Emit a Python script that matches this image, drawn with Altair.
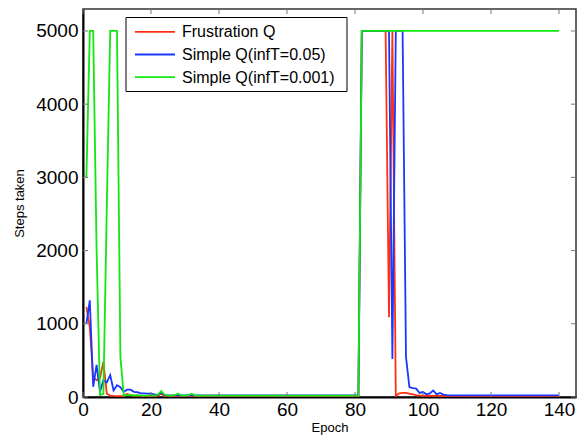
import altair as alt
import pandas as pd

epochs = list(range(1, 141))

frustration_q = [
    1230, 950, 270, 230, 260, 480, 45, 20, 15, 12, 12, 15,
    40, 25, 20, 18, 15, 15, 14, 12, 12, 20, 45, 15,
    14, 13, 12, 12, 12, 12, 12, 12, 12, 12, 12, 12,
    12, 12, 12, 12, 12, 12, 12, 12, 12, 12, 12, 12,
    12, 12, 12, 12, 12, 12, 12, 12, 12, 12, 12, 12,
    12, 12, 12, 12, 12, 12, 12, 12, 12, 12, 12, 12,
    12, 12, 12, 12, 12, 12, 12, 12, 12,
    5000, 5000, 5000, 5000, 5000, 5000, 5000, 5000,
    1090, 5000, 15,
    50, 55, 55, 45, 35, 25, 20, 20, 15, 20, 15, 15,
    14, 14, 14, 14, 14, 14, 14, 14, 14, 14, 14, 14,
    14, 14, 14, 14, 14, 14, 14, 14, 14, 14, 14, 14,
    14, 14, 14, 14, 14, 14, 14, 14, 14, 14, 14, 14,
]

simple_q_005 = [
    1000, 1320, 140, 440, 70, 230, 200, 300, 90, 160, 135, 70,
    100, 100, 70, 65, 50, 50, 45, 45, 35, 30, 60, 25,
    22, 22, 22, 22, 22, 22, 22, 22, 22, 22, 22, 22,
    22, 22, 22, 22, 22, 22, 22, 22, 22, 22, 22, 22,
    22, 22, 22, 22, 22, 22, 22, 22, 22, 22, 22, 22,
    22, 22, 22, 22, 22, 22, 22, 22, 22, 22, 22, 22,
    22, 22, 22, 22, 22, 22, 22, 22, 22,
    5000, 5000, 5000, 5000, 5000, 5000, 5000, 5000, 5000,
    520, 5000, 5000, 5000, 545,
    136, 120, 115, 55, 68, 36, 50, 90, 36, 55, 32, 25,
    22, 22, 22, 22, 22, 22, 22, 22, 22, 22, 22,
    22, 22, 22, 22, 22, 22, 22, 22, 22, 22, 22,
    22, 22, 22, 22, 22, 22, 22, 22, 22, 22, 22,
]

simple_q_0001 = [
    3000, 5000, 5000, 2000, 30, 40, 2600, 5000, 5000, 5000, 545, 20,
    25, 30, 20, 25, 20, 20, 20, 25, 20, 30, 80, 30,
    20, 20, 25, 45, 20, 20, 25, 45, 20, 20, 20, 20,
    20, 20, 20, 20, 20, 20, 20, 20, 20, 20, 20, 20,
    20, 20, 20, 20, 20, 20, 20, 20, 20, 20, 20, 20,
    20, 20, 20, 20, 20, 20, 20, 20, 20, 20, 20, 20,
    20, 20, 20, 20, 20, 20, 20, 20, 20,
    5000, 5000, 5000, 5000, 5000, 5000, 5000, 5000, 5000, 5000,
    5000, 5000, 5000, 5000, 5000, 5000, 5000, 5000, 5000, 5000,
    5000, 5000, 5000, 5000, 5000, 5000, 5000, 5000, 5000, 5000,
    5000, 5000, 5000, 5000, 5000, 5000, 5000, 5000, 5000, 5000,
    5000, 5000, 5000, 5000, 5000, 5000, 5000, 5000, 5000, 5000,
    5000, 5000, 5000, 5000, 5000, 5000, 5000, 5000, 5000,
]

series_names = ["Frustration Q", "Simple Q(infT=0.05)", "Simple Q(infT=0.001)"]
series_values = [frustration_q, simple_q_005, simple_q_0001]
series_colors = ["#ff3010", "#1838ff", "#10e810"]

x_ticks = [0, 20, 40, 60, 80, 100, 120, 140]
y_ticks = [0, 1000, 2000, 3000, 4000, 5000]

FONT = "Liberation Sans"
W, H = 493, 388

x_scale = alt.Scale(domain=[0, 145], nice=False, zero=False)
y_scale = alt.Scale(domain=[0, 5300], nice=False)

x_axis = alt.Axis(values=x_ticks, title="Epoch", grid=False, tickSize=0,
                  format="d",
                  labelFont=FONT, labelFontSize=19, labelColor="black",
                  labelPadding=3, labelFlush=False,
                  titleFont=FONT, titleFontSize=13, titleFontWeight="normal",
                  titleColor="black", titlePadding=2,
                  domainColor="black", domainWidth=2)
y_axis = alt.Axis(values=y_ticks, title="Steps taken", grid=False, tickSize=0,
                  format="d",
                  labelFont=FONT, labelFontSize=19, labelColor="black",
                  labelPadding=5, labelFlush=False,
                  titleFont=FONT, titleFontSize=13, titleFontWeight="normal",
                  titleColor="black", titlePadding=9,
                  domainColor="black", domainWidth=2)

layers = []
for name, vals, col in zip(series_names, series_values, series_colors):
    df = pd.DataFrame({"epoch": epochs, "steps": vals})
    layers.append(
        alt.Chart(df).mark_line(color=col, strokeWidth=1.8, clip=True).encode(
            x=alt.X("epoch:Q", scale=x_scale, axis=x_axis),
            y=alt.Y("steps:Q", scale=y_scale, axis=y_axis),
        )
    )

# inside tick marks (MATLAB style)
xt = pd.DataFrame({"t": x_ticks})
yt = pd.DataFrame({"t": y_ticks})
tick_col = "#777777"
layers.append(alt.Chart(xt).mark_rule(color=tick_col, strokeWidth=1).encode(
    x=alt.X("t:Q", scale=x_scale), y=alt.value(H), y2=alt.value(H - 5)))
layers.append(alt.Chart(xt).mark_rule(color=tick_col, strokeWidth=1).encode(
    x=alt.X("t:Q", scale=x_scale), y=alt.value(0), y2=alt.value(5)))
layers.append(alt.Chart(yt).mark_rule(color=tick_col, strokeWidth=1).encode(
    y=alt.Y("t:Q", scale=y_scale), x=alt.value(0), x2=alt.value(5)))
layers.append(alt.Chart(yt).mark_rule(color=tick_col, strokeWidth=1).encode(
    y=alt.Y("t:Q", scale=y_scale), x=alt.value(W), x2=alt.value(W - 5)))

# custom legend
box = pd.DataFrame({"b": [0]})
layers.append(alt.Chart(box).mark_rect(fill="white", stroke="black", strokeWidth=1).encode(
    x=alt.value(43), x2=alt.value(264), y=alt.value(8.5), y2=alt.value(82.5)))
row_y = [22.8, 45.5, 68.2]
for name, col, ry in zip(series_names, series_colors, row_y):
    d = pd.DataFrame({"label": [name]})
    layers.append(alt.Chart(d).mark_rule(color=col, strokeWidth=1.8).encode(
        x=alt.value(52), x2=alt.value(92), y=alt.value(ry)))
    layers.append(alt.Chart(d).mark_text(align="left", baseline="middle", font=FONT,
                                         fontSize=16, color="black").encode(
        x=alt.value(99), y=alt.value(ry + 0.5), text="label:N"))

chart = alt.layer(*layers).properties(
    width=W, height=H,
    autosize=alt.AutoSizeParams(type="none"),
    padding={"left": 75, "top": 1, "right": 3, "bottom": 42},
    background="white",
).configure_view(stroke="#333333", strokeWidth=1.5)

chart.save("out.html", embed_options={"renderer": "svg", "actions": False})
